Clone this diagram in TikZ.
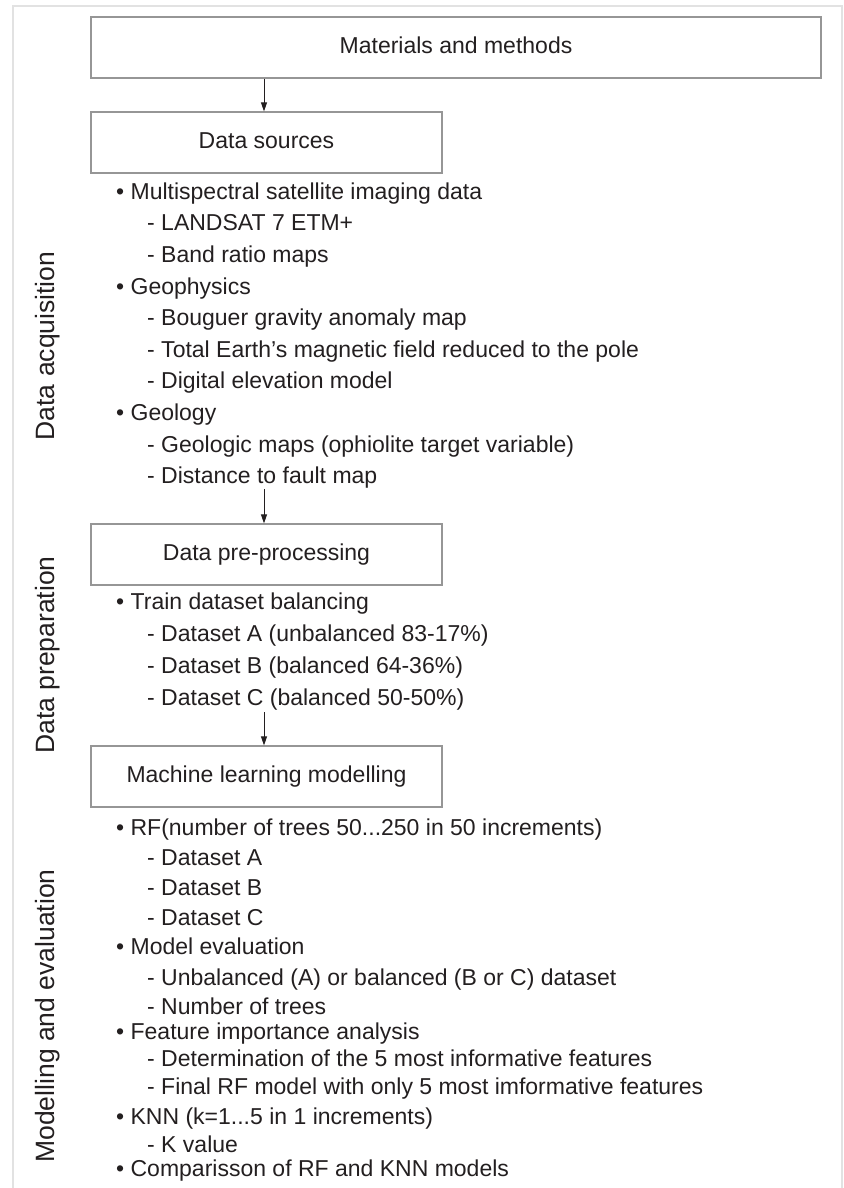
\documentclass[tikz,border=0pt]{standalone}
\usepackage{fontspec}
\setmainfont{Liberation Sans}
\usepackage{tikz}
\usetikzlibrary{arrows.meta}
\definecolor{ink}{RGB}{35,31,32}
\definecolor{boxgray}{RGB}{150,150,150}
\definecolor{framegray}{RGB}{226,226,226}

\begin{document}
\begin{tikzpicture}[x=1pt,y=-1pt,
  font=\fontsize{23}{28}\selectfont,text=ink,
  box/.style={draw=boxgray,line width=1.2pt,minimum height=61pt,inner sep=0pt,
    text height=1.25em,text depth=0em},
  lvlone/.style={anchor=base west,inner sep=0pt},
  lvltwo/.style={anchor=base west,inner sep=0pt},
  side/.style={rotate=90,inner sep=0pt,font=\fontsize{26.5}{30}\selectfont,
    text height=0.73em,text depth=0.21em},
  >={Triangle[length=9pt,width=6pt]}]
  \useasboundingbox (0,0) rectangle (843,1188);
  \draw[framegray,line width=1.5pt] (13,1188) -- (13,6) -- (842,6) -- (842,1188);

  % boxes
  \node[box,minimum width=730pt] (M) at (456,47.5) {Materials and methods};
  \node[box,minimum width=351pt] (S) at (266.5,142.5) {Data sources};
  \node[box,minimum width=351pt] (P) at (266.5,554.5) {Data pre-processing};
  \node[box,minimum width=351pt] (L) at (266.5,776.5) {Machine learning modelling};

  % side labels
  \node[side] (acq) at (52,346) {Data acquisition};
  \node[side] (prep) at (52,655) {Data preparation};
  \node[side] (mod) at (52,1016) {Modelling and evaluation};

  % data sources
  \node[lvlone] (s1) at (116,199) {• Multispectral satellite imaging data};
  \node[lvltwo] (s2) at (147,230.7) {- LANDSAT 7 ETM+};
  \node[lvltwo] (s3) at (147,262.3) {- Band ratio maps};
  \node[lvlone] (s4) at (116,294) {• Geophysics};
  \node[lvltwo] (s5) at (147,325.6) {- Bouguer gravity anomaly map};
  \node[lvltwo] (s6) at (147,357.3) {- Total Earth’s magnetic field reduced to the pole};
  \node[lvltwo] (s7) at (147,388.9) {- Digital elevation model};
  \node[lvlone] (s8) at (116,420.6) {• Geology};
  \node[lvltwo] (s9) at (147,452.2) {- Geologic maps (ophiolite target variable)};
  \node[lvltwo] (s10) at (147,483.9) {- Distance to fault map};

  % pre-processing
  \node[lvlone] (p1) at (116,609) {• Train dataset balancing};
  \node[lvltwo] (p2) at (147,641) {- Dataset A (unbalanced 83-17\%)};
  \node[lvltwo] (p3) at (147,673) {- Dataset B (balanced 64-36\%)};
  \node[lvltwo] (p4) at (147,705) {- Dataset C (balanced 50-50\%)};

  % modelling
  \node[lvlone] (m1) at (116,835) {• RF(number of trees 50...250 in 50 increments)};
  \node[lvltwo] (m2) at (147,865) {- Dataset A};
  \node[lvltwo] (m3) at (147,895) {- Dataset B};
  \node[lvltwo] (m4) at (147,925) {- Dataset C};
  \node[lvlone] (m5) at (116,954) {• Model evaluation};
  \node[lvltwo] (m6) at (147,985) {- Unbalanced (A) or balanced (B or C) dataset};
  \node[lvltwo] (m7) at (147,1014) {- Number of trees};
  \node[lvlone] (m8) at (116,1039) {• Feature importance analysis};
  \node[lvltwo] (m9) at (147,1066) {- Determination of the 5 most informative features};
  \node[lvltwo] (m10) at (147,1094) {- Final RF model with only 5 most imformative features};
  \node[lvlone] (m11) at (116,1124) {• KNN (k=1...5 in 1 increments)};
  \node[lvltwo] (m12) at (147,1152) {- K value};
  \node[lvlone] (m13) at (116,1176) {• Comparisson of RF and KNN models};

  % arrows
  \coordinate (x0) at (264,0);
  \coordinate (c1) at (264,489);
  \coordinate (c2) at (264,712);
  \draw[->,ink,line width=0.9pt] (M.south -| x0) -- (S.north -| x0);
  \draw[->,ink,line width=0.9pt] (c1) -- (P.north -| c1);
  \draw[->,ink,line width=0.9pt] (c2) -- (L.north -| c2);
\end{tikzpicture}
\end{document}
